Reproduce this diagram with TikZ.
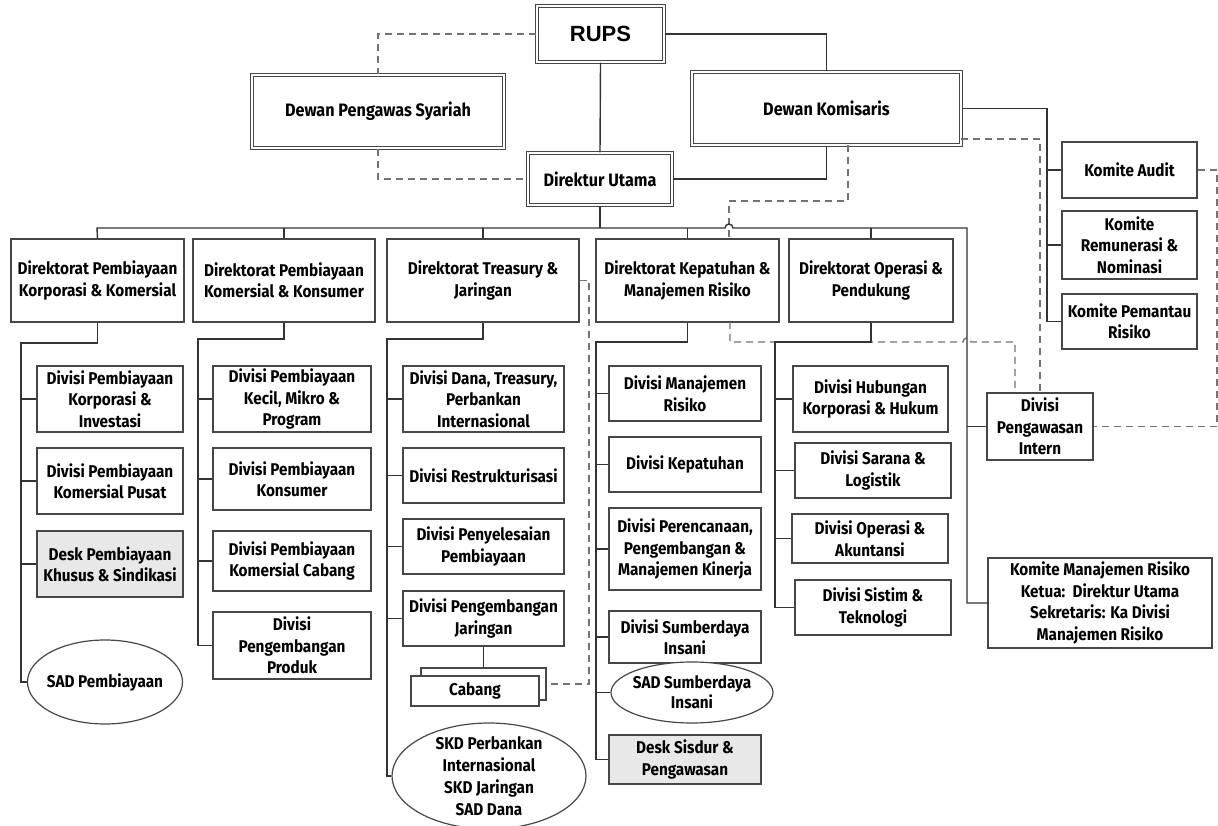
\documentclass[tikz,border=0pt]{standalone}
\usepackage{fontspec}
\setmainfont{Fira Sans}[FakeStretch=0.9]
\newfontfamily\rupsfont{Liberation Sans}
\usetikzlibrary{shapes.geometric,calc}

\tikzset{
  unitbox/.style={draw=black!72, line width=1.3pt, fill=white, align=center,
    inner sep=1pt, font=\fontsize{17}{21.5}\selectfont\bfseries},
  topbox/.style={unitbox, double=white, double distance=1.6pt, line width=1.1pt,
    font=\fontsize{18}{22}\selectfont\bfseries},
  deskbox/.style={unitbox, fill=black!9},
  oval/.style={ellipse, draw=black!72, line width=1.2pt, fill=white, inner sep=0pt},
  ovaltext/.style={align=center, inner sep=0pt, font=\fontsize{17}{21.5}\selectfont\bfseries},
  conn/.style={draw=black!80, line width=1.4pt},
  dotline/.style={draw=black!55, line width=1.4pt, dash pattern=on 7pt off 5pt},
}

\begin{document}
\begin{tikzpicture}[x=1pt, y=-1pt]
\useasboundingbox[fill=white] (0,0) rectangle (1218,826);

% ---- top level ----
\node[topbox, minimum width=127pt, minimum height=56pt, font=\rupsfont\fontsize{22}{26}\selectfont\bfseries] (rups) at (600.5,34) {RUPS};
\node[topbox, minimum width=252pt, minimum height=73pt] (dps) at (378,111.5) {Dewan Pengawas Syariah};
\node[topbox, minimum width=269pt, minimum height=73pt] (dk) at (826.5,108.5) {Dewan Komisaris};
\node[topbox, minimum width=144pt, minimum height=52pt] (du) at (600,179) {Direktur Utama};

% ---- committees ----
\node[unitbox, minimum width=135pt, minimum height=56pt] (ka) at (1129.5,170) {Komite Audit};
\node[unitbox, minimum width=135pt, minimum height=68pt] (kr) at (1129.5,245) {Komite\\Remunerasi \&\\Nominasi};
\node[unitbox, minimum width=135pt, minimum height=55pt] (kp) at (1129.5,321.5) {Komite Pemantau\\Risiko};

% ---- directorates ----
\node[unitbox, minimum width=173pt, minimum height=83pt] (d1) at (97.5,280.5) {Direktorat Pembiayaan\\Korporasi \& Komersial};
\node[unitbox, minimum width=182pt, minimum height=83pt] (d2) at (284,280.5) {Direktorat Pembiayaan\\Komersial \& Konsumer};
\node[unitbox, minimum width=192pt, minimum height=83pt] (d3) at (483,280.5) {Direktorat Treasury \&\\Jaringan};
\node[unitbox, minimum width=183pt, minimum height=83pt] (d4) at (687.5,280.5) {Direktorat Kepatuhan \&\\Manajemen Risiko};
\node[unitbox, minimum width=164pt, minimum height=83pt] (d5) at (871,280.5) {Direktorat Operasi \&\\Pendukung};

% ---- column 1 ----
\node[unitbox, minimum width=146pt, minimum height=66pt] (a1) at (110,399) {Divisi Pembiayaan\\Korporasi \&\\Investasi};
\node[unitbox, minimum width=146pt, minimum height=66pt] (a2) at (110,481) {Divisi Pembiayaan\\Komersial Pusat};
\node[deskbox, minimum width=146pt, minimum height=66pt] (a3) at (110,564) {Desk Pembiayaan\\Khusus \& Sindikasi};
\node[oval, minimum width=155pt, minimum height=84pt] (a4) at (105,682) {};
\node[ovaltext] (a4t) at (a4.center) {SAD Pembiayaan};

% ---- column 2 ----
\node[unitbox, minimum width=158pt, minimum height=66pt] (b1) at (292,399) {Divisi Pembiayaan\\Kecil, Mikro \&\\Program};
\node[unitbox, minimum width=158pt, minimum height=62pt] (b2) at (292,479) {Divisi Pembiayaan\\Konsumer};
\node[unitbox, minimum width=158pt, minimum height=60pt] (b3) at (292,561) {Divisi Pembiayaan\\Komersial Cabang};
\node[unitbox, minimum width=158pt, minimum height=67pt] (b4) at (292,645.5) {Divisi\\Pengembangan\\Produk};

% ---- column 3 ----
\node[unitbox, minimum width=161pt, minimum height=66pt] (c1) at (483.5,399) {Divisi Dana, Treasury,\\Perbankan\\Internasional};
\node[unitbox, minimum width=161pt, minimum height=55pt] (c2) at (483.5,475.5) {Divisi Restrukturisasi};
\node[unitbox, minimum width=161pt, minimum height=55pt] (c3) at (483.5,546.5) {Divisi Penyelesaian\\Pembiayaan};
\node[unitbox, minimum width=161pt, minimum height=55pt] (c4) at (483.5,618.5) {Divisi Pengembangan\\Jaringan};
\node[unitbox, minimum width=125pt, minimum height=32pt] (cabB) at (483.5,684) {};
\node[unitbox, minimum width=128pt, minimum height=30pt] (cab) at (475,691) {Cabang};
\node[oval, minimum width=194pt, minimum height=106pt] (skd) at (489,776) {};
\node[ovaltext, font=\fontsize{17}{22}\selectfont\bfseries] (skdt) at (skd.center) {SKD Perbankan\\Internasional\\SKD Jaringan\\SAD Dana};

% ---- column 4 ----
\node[unitbox, minimum width=152pt, minimum height=55pt] (e1) at (685,393.5) {Divisi Manajemen\\Risiko};
\node[unitbox, minimum width=152pt, minimum height=55pt] (e2) at (685,464.5) {Divisi Kepatuhan};
\node[unitbox, minimum width=152pt, minimum height=82pt] (e3) at (685,549) {Divisi Perencanaan,\\Pengembangan \&\\Manajemen Kinerja};
\node[unitbox, minimum width=152pt, minimum height=52pt] (e4) at (685,637) {Divisi Sumberdaya\\Insani};
\node[oval, minimum width=162pt, minimum height=61pt] (e5) at (692,692.5) {};
\node[ovaltext, font=\fontsize{17}{20}\selectfont\bfseries] (e5t) at (e5.center) {SAD Sumberdaya\\Insani};
\node[deskbox, minimum width=152pt, minimum height=49pt] (e6) at (685,759.5) {Desk Sisdur \&\\Pengawasan};

% ---- column 5 ----
\node[unitbox, minimum width=155pt, minimum height=66pt] (f1) at (870.5,399) {Divisi Hubungan\\Korporasi \& Hukum};
\node[unitbox, minimum width=156pt, minimum height=55pt] (f2) at (873,470.5) {Divisi Sarana \&\\Logistik};
\node[unitbox, minimum width=156pt, minimum height=49pt] (f3) at (870,538.5) {Divisi Operasi \&\\Akuntansi};
\node[unitbox, minimum width=156pt, minimum height=55pt] (f4) at (873,607.5) {Divisi Sistim \&\\Teknologi};

% ---- units under the president director ----
\node[unitbox, minimum width=106pt, minimum height=67pt] (dpi) at (1040,426.5) {Divisi\\Pengawasan\\Intern};
\node[unitbox, minimum width=224pt, minimum height=90pt] (kmr) at (1100,603) {Komite Manajemen Risiko\\Ketua:\ \ Direktur Utama\\Sekretaris: Ka Divisi\\Manajemen Risiko};

% ---- helper coordinates ----
\coordinate (busL) at (97,228);
\coordinate (hopL) at (725,228);
\coordinate (busR) at (967,228);
\coordinate (dkA) at (848,145);
\coordinate (dkB) at (729,201);
\coordinate (dkC) at (961,139);
\coordinate (kspine) at (1047,108.5);
\coordinate (kaR) at (1217,170);
\coordinate (kpA) at (730,322);
\coordinate (kpB) at (730,342);
\coordinate (hop2L) at (963,342);
\coordinate (kpC) at (1015,342);
\coordinate (trA) at (589,280.5);
\coordinate (s1t) at (21,343);
\coordinate (s2t) at (198,339);
\coordinate (s3t) at (387,339);
\coordinate (s4t) at (596,342);
\coordinate (s5t) at (775,342);

% ---- dashed (coordination) lines ----
\draw[dotline] (rups.west) -| (dps.north);
\draw[dotline] (dps.south) |- (du.west);
\draw[dotline] (dkA) |- (dkB) -- (dkB |- d4.north);
\draw[dotline] (dkC) -| (dpi.north);
\draw[dotline] (ka.east) -- (kaR) |- (dpi.east);
\draw[dotline] (kpA) -- (kpB) -- (hop2L) arc[start angle=180, end angle=0, radius=4pt] -- (kpC) -- (kpC |- dpi.north);
\draw[dotline] (d3.east) -- (trA) |- (cabB.east);

% ---- solid (command) lines ----
\draw[conn] (rups.south) -- (du.north);
\draw[conn] (rups.east) -| (dk.north);
\draw[conn] (du.east) -| (dk.south);
\draw[conn] (dk.east) -- (kspine) |- (kp.west);
\draw[conn] (ka.west) -- (ka.west -| kspine);
\draw[conn] (kr.west) -- (kr.west -| kspine);

\draw[conn] (d1.north) -- (busL) -- (hopL) arc[start angle=180, end angle=0, radius=4pt] -- (busR) |- (kmr.west);
\draw[conn] (du.south) -- (du.south |- busL);
\foreach \d in {d2,d3,d4,d5} \draw[conn] (\d.north) -- (\d.north |- busL);
\draw[conn] (dpi.west) -- (dpi.west -| busR);

\draw[conn] (d1.south) |- (s1t) |- (a4.west);
\foreach \n in {a1,a2,a3} \draw[conn] (\n.west) -- (\n.west -| s1t);
\draw[conn] (d2.south) |- (s2t) |- (b4.west);
\foreach \n in {b1,b2,b3} \draw[conn] (\n.west) -- (\n.west -| s2t);
\draw[conn] (d3.south) |- (s3t) |- (skd.west);
\foreach \n in {c1,c2,c3,c4} \draw[conn] (\n.west) -- (\n.west -| s3t);
\draw[conn] (c4.south) -- (cabB.north);
\draw[conn] (d4.south) |- (s4t) |- (e6.west);
\foreach \n in {e1,e2,e3,e4,e5} \draw[conn] (\n.west) -- (\n.west -| s4t);
\draw[conn] (d5.south) |- (s5t) |- (f4.west);
\foreach \n in {f1,f2,f3} \draw[conn] (\n.west) -- (\n.west -| s5t);
\end{tikzpicture}
\end{document}
